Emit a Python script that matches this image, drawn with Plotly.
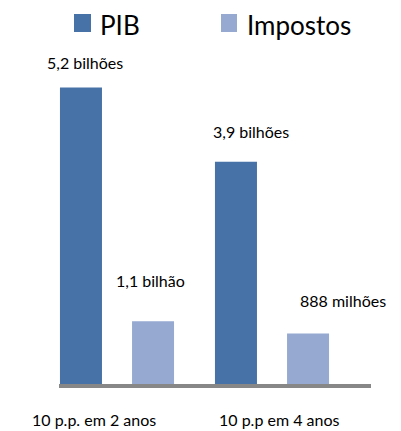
import plotly.graph_objects as go

categories = ["10 p.p. em 2 anos", "10 p.p em 4 anos"]
series_names = ["PIB", "Impostos"]
pib_values = [5.2, 3.9]
impostos_values = [1.1, 0.888]
pib_labels = ["5,2 bilhões", "3,9 bilhões"]
impostos_labels = ["1,1 bilhão", "888 milhões"]

W, H = 401, 431
L, R, T, B = 59, 30, 50, 47
PW, PH = W - L - R, H - T - B
colors = {"PIB": "#4672A8", "Impostos": "#95A9D1"}
FONT = "Lato"

def px2paper_x(px):
    return (px - L) / PW

def px2paper_y(py):
    return (H - B - py) / PH

fig = go.Figure()
fig.add_trace(go.Bar(x=[0, 1], y=pib_values, name="PIB", marker_color=colors["PIB"],
                     width=0.271, offset=-0.368, showlegend=False, marker_line_width=0))
fig.add_trace(go.Bar(x=[0, 1], y=impostos_values, name="Impostos", marker_color=colors["Impostos"],
                     width=0.271, offset=0.097, showlegend=False, marker_line_width=0))

annotations = []
label_font = dict(family=FONT, size=16, color="#000000")
# value labels (Excel-style manually positioned)
pib_shift = [(-36 + 3.5, 25), (-36 + 15, 30)]
imp_shift = [(36 - 3, 41), (36 + 35, 33)]
for i, (v, t) in enumerate(zip(pib_values, pib_labels)):
    annotations.append(dict(x=i, y=v, xref="x", yref="y", text=t, showarrow=False,
                            xshift=pib_shift[i][0], yshift=pib_shift[i][1], font=label_font))
for i, (v, t) in enumerate(zip(impostos_values, impostos_labels)):
    annotations.append(dict(x=i, y=v, xref="x", yref="y", text=t, showarrow=False,
                            xshift=imp_shift[i][0], yshift=imp_shift[i][1], font=label_font))
# category labels
cat_shift = [-23, 7]
for i, c in enumerate(categories):
    annotations.append(dict(x=i, y=px2paper_y(419), xref="x", yref="paper", text=c, showarrow=False,
                            xshift=cat_shift[i], font=label_font, yanchor="middle"))

# legend (manual, Excel-like)
shapes = []
leg = [("PIB", 74, 91, 98), ("Impostos", 221, 237, 245)]
for name, x0, x1, tx in leg:
    shapes.append(dict(type="rect", xref="paper", yref="paper",
                       x0=px2paper_x(x0), x1=px2paper_x(x1), y0=px2paper_y(32), y1=px2paper_y(14),
                       fillcolor=colors[name], line_width=0))
    annotations.append(dict(x=px2paper_x(tx), y=px2paper_y(25), xref="paper", yref="paper",
                            text=name, showarrow=False, xanchor="left", yanchor="middle",
                            font=dict(family=FONT, size=26, color="#000000")))

fig.update_layout(
    width=W, height=H, margin=dict(l=L, r=R, t=T, b=B),
    paper_bgcolor="white", plot_bgcolor="white",
    barmode="overlay",
    xaxis=dict(range=[-0.3742, 1.6387], showticklabels=False, ticks="", showgrid=False,
               zeroline=False, showline=True, linecolor="#878787", linewidth=4, fixedrange=True),
    yaxis=dict(range=[0, 5.86], visible=False, showgrid=False, zeroline=False, fixedrange=True),
    annotations=annotations, shapes=shapes, showlegend=False,
)
fig.write_html("out.html")
